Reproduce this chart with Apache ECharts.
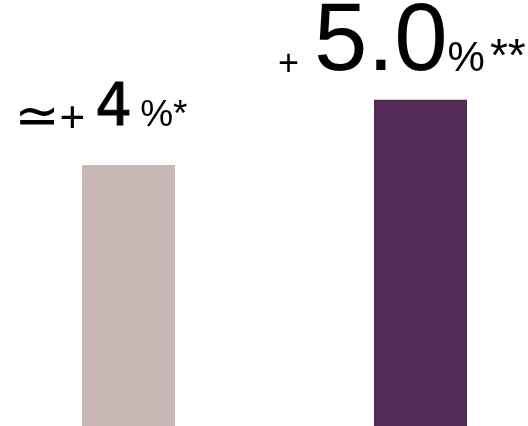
<!DOCTYPE html>
<html><head><meta charset="utf-8">
<script src="https://cdn.jsdelivr.net/npm/echarts@6/dist/echarts.min.js"></script>
<style>html,body{margin:0;padding:0;background:#fff}#c{width:528px;height:426px}</style>
</head><body><div id="c"></div>
<script>
const categories = ['A', 'B'];
const values = [4, 5.0];
const prefixes = ['≃', ''];
const signs = ['+', '+'];
const valueTexts = ['4', '5.0'];
const percentSigns = ['%', '%'];
const stars = ['*', '**'];
const colors = ['#c9b8b6', '#522b57'];

const chart = echarts.init(document.getElementById('c'), null, {renderer: 'canvas'});
const F = '"Liberation Sans", Arial, sans-serif';
function tok(size, pb, extra) {
  const base = {fontFamily: F, fontSize: size, color: '#000', verticalAlign: 'bottom'};
  const e = extra || {};
  const padL = e.padL || 0, padR = e.padR || 0;
  delete e.padL; delete e.padR;
  return Object.assign(base, e, {padding: [0, padR, pb, padL]});
}
const labels = [
  {
    show: true, position: 'top', distance: 16.6, offset: [-27.6, 0],
    formatter: '{a|' + prefixes[0] + '}{b|' + signs[0] + '}{c|' + valueTexts[0] + '}{d|' + percentSigns[0] + stars[0] + '}',
    rich: {
      a: tok(54, 1.4, {fontFamily: '"DejaVu Sans"'}),
      b: tok(44, 6.9, {padR: 10}),
      c: tok(58, 9.6, {fontFamily: '"DejaVu Sans"', textBorderColor: '#000', textBorderWidth: 1, padR: 8.1}),
      d: tok(37, 14.4)
    }
  },
  {
    show: true, position: 'top', distance: 8.8, offset: [-18.6, 0],
    formatter: '{b|' + signs[1] + '}{c|' + valueTexts[1] + '}{d|' + percentSigns[1] + '}{e|' + stars[1] + '}',
    rich: {
      b: tok(36, 8.2, {padR: 15}),
      c: tok(96, 0),
      d: tok(42, 10.3),
      e: tok(46, 9.5, {padL: 5})
    }
  }
];
chart.setOption({
  animation: false,
  grid: {left: 128.5, right: 107.5, top: 2, bottom: 0, containLabel: false},
  xAxis: {type: 'category', data: categories, show: false, boundaryGap: false},
  yAxis: {type: 'value', min: 0, max: 6.5, show: false},
  series: [{
    type: 'bar',
    barWidth: 93,
    data: values.map((v, i) => ({value: v, itemStyle: {color: colors[i]}, label: labels[i]}))
  }]
});
</script></body></html>
